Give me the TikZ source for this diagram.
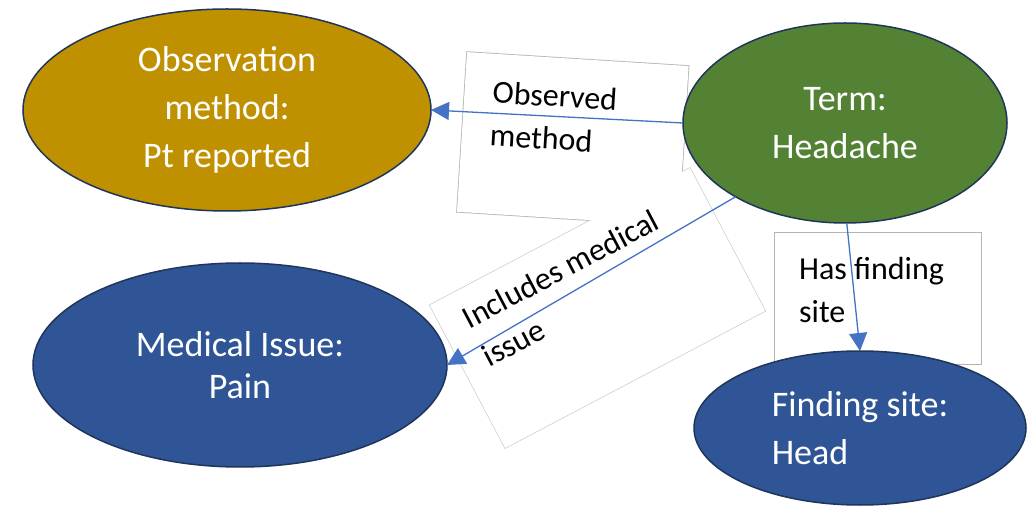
\documentclass[tikz,border=0pt]{standalone}
\usepackage{fontspec}
\setmainfont{Carlito}
\usetikzlibrary{shapes.geometric,arrows.meta,backgrounds}

\definecolor{goldfill}{HTML}{BF9000}
\definecolor{greenfill}{HTML}{548235}
\definecolor{bluefill}{HTML}{2F5597}
\definecolor{rimcolor}{HTML}{1F3559}
\definecolor{linkblue}{HTML}{4472C4}
\definecolor{boxedge}{HTML}{B4B4B4}
\definecolor{faintedge}{HTML}{CCCCCC}

\tikzset{
  concept/.style={ellipse, draw=rimcolor, line width=1.5pt, inner sep=0pt,
    outer sep=0pt, text=white, align=center,
    font=\fontsize{36}{48}\selectfont},
  labelbox/.style={rectangle, inner sep=0pt, outer sep=0pt},
  labeltext/.style={inner sep=0pt, align=left, anchor=base west,
    transform shape, font=\fontsize{32}{43}\selectfont},
  conn/.style={draw=linkblue, line width=1.3pt,
    -{Triangle[length=18pt,width=18pt]}},
}

\begin{document}
\begin{tikzpicture}[x=1pt,y=1pt]
\useasboundingbox (0,0) rectangle (1033,506);

% concept ellipses
\node[concept, fill=goldfill, minimum width=408pt, minimum height=202pt]
  (obs) at (227,396) {Observation\\method:\\Pt reported};
\node[concept, fill=greenfill, minimum width=324pt, minimum height=200pt]
  (term) at (845,383) {Term:\\Headache};
\node[concept, fill=bluefill, minimum width=414pt, minimum height=204pt,
  font=\fontsize{36}{42}\selectfont]
  (med) at (240,141) {Medical Issue:\\Pain};
\node[concept, fill=bluefill, minimum width=332pt, minimum height=154pt,
  align=left]
  (find) at (860,78) {Finding site:\\Head};

% white page and label boxes behind the ellipses;
% the two tilted boxes share one outline
\begin{scope}[on background layer]
  \fill[white] (0,0) rectangle (1033,506);
  \node[labelbox, draw=boxedge, line width=1.6pt, rotate=-3.6,
    minimum width=222pt, minimum height=160pt] (obsbox) at (572.8,367.1) {};
  \node[labelbox, draw=faintedge, line width=1.4pt, rotate=27.8,
    minimum width=294pt, minimum height=161.5pt] (incbox) at (597.5,198) {};
  \fill[white] (obsbox.north west) -- (obsbox.north east)
    -- (obsbox.south east) -- (obsbox.south west) -- cycle;
  \fill[white] (incbox.north west) -- (incbox.north east)
    -- (incbox.south east) -- (incbox.south west) -- cycle;
  \node[labelbox, draw=boxedge, fill=white, line width=0.8pt,
    minimum width=207pt, minimum height=132pt] (hasbox) at (877.5,208) {};
\end{scope}

% label texts (base is the baseline of the last line)
\begin{scope}[shift={(obsbox.north west)}, rotate=-3.6]
  \node[labeltext] (obstext) at (28,-92) {Observed\\method};
\end{scope}
\begin{scope}[shift={(incbox.north west)}, rotate=27.8]
  \node[labeltext] (inctext) at (24,-83) {Includes medical\\issue};
\end{scope}
\begin{scope}[shift={(hasbox.north west)}]
  \node[labeltext] (hastext) at (25,-91) {Has finding\\site};
\end{scope}

% relations
\draw[conn] (term.west) -- (obs.east);
\draw[conn] (term.214) -- (med.east);
\draw[conn] (term.271) -- (find.north);
\end{tikzpicture}
\end{document}
